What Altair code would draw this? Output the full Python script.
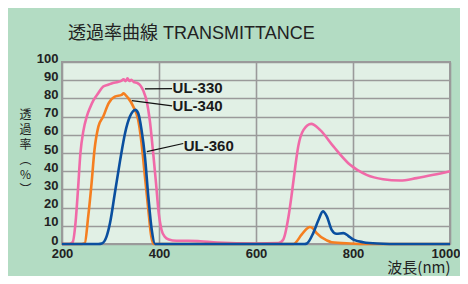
import altair as alt
import pandas as pd

# UL-330 (pink)
wl_330 = [200, 215, 222, 228, 233, 238, 244, 251, 258, 265, 275, 285, 295, 305, 315, 322, 327, 331, 335, 339, 343, 348, 355, 362, 368, 375, 381, 388, 394, 399, 405, 412, 420, 436, 460, 485, 520, 600, 646, 656, 667, 674, 681, 687, 698, 714, 732, 760, 794, 828, 862, 897, 931, 966, 1000]
tr_330 = [0, 0, 1, 12, 30, 50, 62, 70, 75, 79, 83, 86.5, 87.5, 88.5, 89, 89.6, 90.5, 89.5, 91, 89.6, 90.2, 89, 88.5, 87, 84, 78, 68, 50, 33, 18, 8, 4, 2.5, 1.8, 1.8, 1.5, 0.8, 0.3, 0.5, 2.4, 15, 28, 42.6, 53.5, 62.7, 66, 62.7, 53.5, 43.5, 38, 35.6, 34.9, 36.2, 38, 40]

# UL-340 (orange)
wl_340 = [200, 240, 247, 254, 261, 267, 275, 285, 296, 309, 323, 327, 332, 337, 347, 357, 364, 371, 378, 384, 389, 420, 600, 677, 694, 704, 711, 718, 725, 746, 756, 794, 830, 1000]
tr_340 = [0, 0, 0.5, 15, 33.5, 51.7, 64.5, 70, 77.3, 81, 81.9, 82.8, 81.5, 80, 75.5, 68.2, 55.4, 37, 18.8, 4.2, 0, 0, 0, 0, 5.1, 8.3, 9.3, 8.4, 6, 2, 1, 0.3, 0, 0]

# UL-360 (blue)
wl_360 = [200, 275, 282, 292, 299, 309, 320, 330, 340, 346, 351, 357, 364, 371, 378, 385, 392, 420, 600, 700, 705, 718, 729, 738, 746, 756, 766, 780, 790, 801, 821, 850, 900, 1000]
tr_360 = [0, 0, 0.3, 4.2, 11.5, 28, 46.2, 60.9, 70, 72.8, 73.7, 71.9, 62.7, 48, 26, 7.8, 0, 0, 0, 0, 0.3, 6, 13.3, 17.9, 15.2, 7.8, 5.6, 6, 4.5, 2.4, 1, 0.3, 0, 0]

series_names = ["UL-330", "UL-340", "UL-360"]
series_colors = ["#f06aa8", "#f57f20", "#0a4f9f"]

# annotation labels and leader lines (data coordinates)
label_text = ["UL-330", "UL-340", "UL-360"]
label_x = [428, 428, 451]
label_y = [85.6, 75.6, 54.1]
leader_x1 = [371, 344, 375]
leader_y1 = [85.2, 78.8, 50.8]
leader_x2 = [427, 427, 450]
leader_y2 = [85.4, 75.9, 55.2]

x_ticks = [200, 400, 600, 800, 1000]
y_ticks = [0, 10, 20, 30, 40, 50, 60, 70, 80, 90, 100]

rows = []
for name, wls, trs in [("UL-330", wl_330, tr_330), ("UL-340", wl_340, tr_340), ("UL-360", wl_360, tr_360)]:
    for i, (w, t) in enumerate(zip(wls, trs)):
        rows.append({"wl": w, "tr": t, "series": name, "order": i})
df = pd.DataFrame(rows)

leader_df = pd.DataFrame({"wl": leader_x1, "tr": leader_y1, "wl2": leader_x2, "tr2": leader_y2})
label_df = pd.DataFrame({"wl": label_x, "tr": label_y, "text": label_text})

xscale = alt.Scale(domain=[200, 1000], nice=False, zero=False)
yscale = alt.Scale(domain=[0, 100], nice=False)

xaxis = alt.Axis(
    values=x_ticks, format="d", title="波長(nm)", grid=True, ticks=False,
    labelFont="Liberation Sans", labelFontSize=13, labelFontWeight="bold", labelColor="#222222",
    labelPadding=3, labelBaseline="top", labelFlush=False, labelOverlap=False,
    labelAlign={"condition": {"test": "datum.value == 1000", "value": "right"}, "value": "center"},
    labelOffset={"condition": {"test": "datum.value == 1000", "value": 10}, "value": 0},
    titleFont="Noto Sans CJK JP", titleFontSize=15, titleFontWeight="normal", titleColor="#222222",
    titleX=388, titleY=23, titleAlign="right", titleBaseline="middle", titleAnchor="end",
    domain=False, gridColor="#9a9a9a", gridWidth=1.6, gridOpacity=1,
)
yaxis = alt.Axis(
    values=y_ticks, title=["透", "過", "率", "︵", "%", "︶"], grid=True, ticks=False,
    labelFont="Liberation Sans", labelFontSize=13, labelFontWeight="bold", labelColor="#222222",
    labelPadding=4, labelBaseline="alphabetic", labelOverlap=False,
    titleFont="Noto Sans CJK JP", titleFontSize=12, titleFontWeight="normal", titleColor="#222222",
    titleAngle=0, titleX=-37, titleY=52, titleAlign="center", titleBaseline="middle", titleLineHeight=15,
    domain=False, gridColor="#9a9a9a", gridWidth=1.6, gridOpacity=1,
)

lines = alt.Chart(df).mark_line(strokeWidth=2.6, interpolate="monotone", clip=False).encode(
    x=alt.X("wl:Q", scale=xscale, axis=xaxis),
    y=alt.Y("tr:Q", scale=yscale, axis=yaxis),
    color=alt.Color("series:N", scale=alt.Scale(domain=series_names, range=series_colors), legend=None),
    detail="series:N",
    order="order:Q",
)

leaders = alt.Chart(leader_df).mark_rule(color="#111111", strokeWidth=1.2).encode(
    x=alt.X("wl:Q", scale=xscale, axis=xaxis), y=alt.Y("tr:Q", scale=yscale, axis=yaxis),
    x2="wl2:Q", y2="tr2:Q",
)

labels = alt.Chart(label_df).mark_text(
    align="left", baseline="middle", font="Liberation Sans", fontSize=15, fontWeight="bold", color="#1a1a1a"
).encode(
    x=alt.X("wl:Q", scale=xscale, axis=xaxis), y=alt.Y("tr:Q", scale=yscale, axis=yaxis), text="text:N",
)

chart = alt.layer(lines, leaders, labels).properties(
    width=388, height=182,
    autosize=alt.AutoSizeParams(type="none"),
    padding={"left": 54, "top": 54, "right": 10, "bottom": 32},
    background="#b3dcc3",
    title=alt.Title(
        "透過率曲線 TRANSMITTANCE", anchor="start", frame="group", dx=6, offset=9,
        font="Liberation Sans, Noto Sans CJK JP", fontSize=18, fontWeight="normal", color="#222222",
    ),
).configure_view(
    fill="#e1f0e5", stroke="#9a9a9a", strokeWidth=2,
)

chart.save("out.html", embed_options={"renderer": "svg", "actions": False})
